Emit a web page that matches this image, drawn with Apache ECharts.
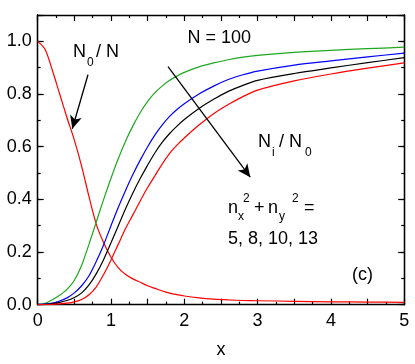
<!DOCTYPE html>
<html>
<head>
<meta charset="utf-8">
<script src="https://cdn.jsdelivr.net/npm/echarts@6/dist/echarts.min.js"></script>
<style>
html,body{margin:0;padding:0;background:#fff;}
#c{width:415px;height:364px;}
</style>
</head>
<body>
<div id="c"></div>
<script>
var xs = [0,0.1,0.2,0.3,0.4,0.5,0.6,0.7,0.8,0.9,1.0,1.1,1.2,1.3,1.4,1.5,1.6,1.7,1.8,1.9,2.0,2.2,2.4,2.6,2.8,3.0,3.5,4.0,4.5,5.0];
var decayN0N = [1.0,0.97,0.89,0.80,0.71,0.625,0.525,0.41,0.305,0.235,0.18,0.14,0.115,0.098,0.085,0.072,0.062,0.052,0.044,0.038,0.033,0.026,0.021,0.018,0.016,0.015,0.013,0.011,0.010,0.009];
var green5 = [0,0.005,0.019,0.036,0.058,0.093,0.15,0.23,0.315,0.40,0.48,0.555,0.622,0.68,0.73,0.772,0.805,0.831,0.852,0.868,0.882,0.903,0.918,0.93,0.94,0.947,0.958,0.966,0.972,0.978];
var blue8 = [0,0.002,0.006,0.014,0.026,0.045,0.072,0.11,0.165,0.228,0.30,0.37,0.435,0.495,0.55,0.60,0.645,0.683,0.715,0.741,0.763,0.80,0.83,0.855,0.873,0.887,0.91,0.926,0.941,0.955];
var black10 = [0,0.001,0.004,0.009,0.016,0.027,0.045,0.075,0.118,0.172,0.235,0.30,0.365,0.425,0.48,0.53,0.577,0.617,0.65,0.678,0.703,0.745,0.78,0.81,0.833,0.852,0.878,0.899,0.919,0.938];
var red13 = [0,0,0.001,0.003,0.006,0.011,0.02,0.038,0.068,0.115,0.17,0.23,0.29,0.342,0.395,0.445,0.49,0.535,0.575,0.606,0.633,0.682,0.725,0.76,0.79,0.815,0.85,0.876,0.898,0.918];
var xTickLabels = ['0','1','2','3','4','5'];
var yTickLabels = ['0.0','0.2','0.4','0.6','0.8','1.0'];

function pair(ys){ return xs.map(function(x,i){ return [x, ys[i]]; }); }

var FONT = '"Liberation Sans", Arial, sans-serif';
var axisColor = '#000';

function yAx(pos, interval, len, showLabel){
  return {
    type:'value', position:pos, min:0, max:1.1, interval:interval,
    axisLine:{show:true, onZero:false, lineStyle:{color:axisColor, width:1.3}},
    axisTick:{show:true, inside:true, length:len, lineStyle:{color:axisColor, width:1.2}},
    axisLabel:{show:showLabel, margin:6, fontSize:18, fontFamily:FONT, color:'#000',
      formatter:function(v){ var s=v.toFixed(1); return yTickLabels.indexOf(s)>=0 ? s : ''; }},
    splitLine:{show:false}
  };
}
function xAx(pos, showLabel){
  return {
    type:'value', position:pos, min:0, max:5, interval:0.5,
    name: showLabel ? 'x' : '', nameLocation:'middle', nameGap:36,
    nameTextStyle:{fontSize:18, fontFamily:FONT, color:'#000'},
    axisLine:{show:true, onZero:false, lineStyle:{color:axisColor, width:1.3}},
    axisTick:{show:true, inside:true, length:6, lineStyle:{color:axisColor, width:1.2}},
    minorTick:{show:true, splitNumber:2, length:3, lineStyle:{color:axisColor, width:1.2}},
    axisLabel:{show:showLabel, margin:7, fontSize:18, fontFamily:FONT, color:'#000',
      formatter:function(v){ var s=String(Math.round(v*100)/100); return xTickLabels.indexOf(s)>=0 ? s : ''; }},
    splitLine:{show:false}, minorSplitLine:{show:false}
  };
}
function line(data,color,extra){
  var s = {type:'line', data:pair(data), showSymbol:false, smooth:0.3, silent:true,
    lineStyle:{color:color, width:1.2}, itemStyle:{color:color}, xAxisIndex:0, yAxisIndex:1, z:3};
  if(extra){ for(var k in extra) s[k]=extra[k]; }
  return s;
}

var chart = echarts.init(document.getElementById('c'), null, {renderer:'canvas'});
var arrowLines = [
  [{coord:[0.686,0.873]},{coord:[0.472,0.668]}],
  [{coord:[1.778,0.904]},{coord:[2.90,0.484]}]
];
chart.setOption({
  animation:false,
  backgroundColor:'#fff',
  grid:{left:37.7, right:10.8, top:15, bottom:59.3, containLabel:false},
  xAxis:[xAx('bottom',true), xAx('top',false)],
  yAxis:[yAx('left',0.1,3,false), yAx('left',0.2,6,true), yAx('right',0.1,3,false), yAx('right',0.2,6,false)],
  series:[
    line(decayN0N,'#ff0000'),
    line(green5,'#1fa81f'),
    line(blue8,'#0000ff'),
    line(black10,'#000000',{markLine:{silent:true, symbol:['none','arrow'], symbolSize:[9,13],
      label:{show:false}, lineStyle:{color:'#000', width:1.3, type:'solid'},
      emphasis:{disabled:true}, data:arrowLines}}),
    line(red13,'#ff0000')
  ],
  graphic:[
    {type:'text', left:73, top:43, style:{text:'N', font:'18px '+FONT, fill:'#000'}},
    {type:'text', left:87, top:57, style:{text:'0', font:'12px '+FONT, fill:'#000'}},
    {type:'text', left:96, top:43, style:{text:'/ N', font:'18px '+FONT, fill:'#000'}},

    {type:'text', left:187.5, top:29, style:{text:'N = 100', font:'18px '+FONT, fill:'#000'}},

    {type:'text', left:258, top:133, style:{text:'N', font:'18px '+FONT, fill:'#000'}},
    {type:'text', left:272, top:147, style:{text:'i', font:'12px '+FONT, fill:'#000'}},
    {type:'text', left:279, top:133, style:{text:'/ N', font:'18px '+FONT, fill:'#000'}},
    {type:'text', left:305, top:147, style:{text:'0', font:'12px '+FONT, fill:'#000'}},

    {type:'text', left:228, top:199, style:{text:'n', font:'18px '+FONT, fill:'#000'}},
    {type:'text', left:238, top:211, style:{text:'x', font:'12px '+FONT, fill:'#000'}},
    {type:'text', left:243, top:193, style:{text:'2', font:'12px '+FONT, fill:'#000'}},
    {type:'text', left:254, top:199, style:{text:'+', font:'18px '+FONT, fill:'#000'}},
    {type:'text', left:268, top:199, style:{text:'n', font:'18px '+FONT, fill:'#000'}},
    {type:'text', left:279, top:211, style:{text:'y', font:'12px '+FONT, fill:'#000'}},
    {type:'text', left:292, top:193, style:{text:'2', font:'12px '+FONT, fill:'#000'}},
    {type:'text', left:304, top:199, style:{text:'=', font:'18px '+FONT, fill:'#000'}},

    {type:'text', left:228, top:230, style:{text:'5, 8, 10, 13', font:'18px '+FONT, fill:'#000'}},

    {type:'text', left:352, top:266, style:{text:'(c)', font:'18px '+FONT, fill:'#000'}}
  ]
});
</script>
</body>
</html>
